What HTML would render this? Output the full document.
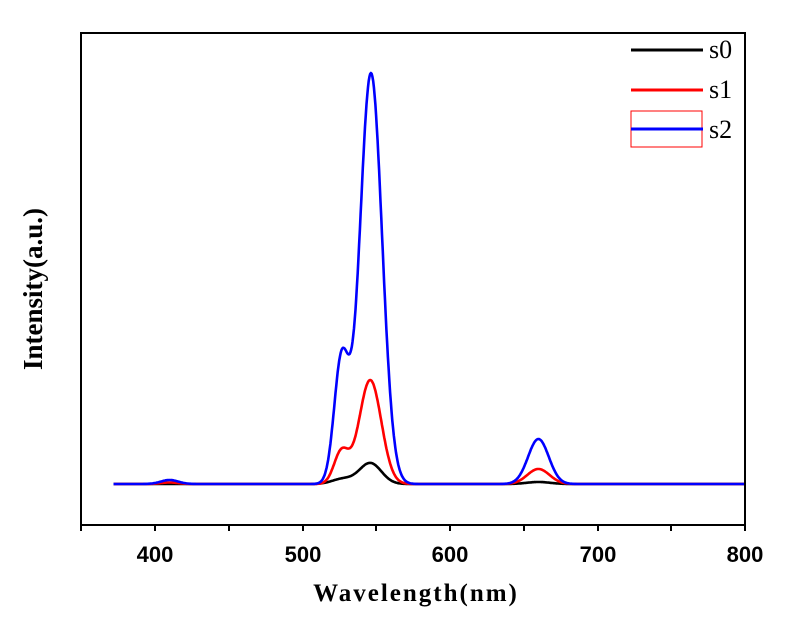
<!DOCTYPE html>
<html><head><meta charset="utf-8"><style>
body{margin:0;background:#fff}
svg{display:block}
</style></head><body>
<svg id="s" width="790" height="624" xmlns="http://www.w3.org/2000/svg">
<rect x="0" y="0" width="790" height="624" fill="#fff"/>
<g id="curves" fill="none" stroke-width="2.6" stroke-linejoin="round"></g>
<rect x="81" y="33" width="664" height="492" fill="none" stroke="#000" stroke-width="2"/>
<g stroke="#000" stroke-width="2">
<line x1="81" y1="525" x2="81" y2="531"/><line x1="155" y1="525" x2="155" y2="531"/>
<line x1="229" y1="525" x2="229" y2="531"/><line x1="303" y1="525" x2="303" y2="531"/>
<line x1="376" y1="525" x2="376" y2="531"/><line x1="450" y1="525" x2="450" y2="531"/>
<line x1="524" y1="525" x2="524" y2="531"/><line x1="598" y1="525" x2="598" y2="531"/>
<line x1="671" y1="525" x2="671" y2="531"/><line x1="745" y1="525" x2="745" y2="531"/>
</g>
<g font-family="Liberation Sans, sans-serif" font-weight="bold" font-size="22" text-anchor="middle">
<text x="155" y="562">400</text><text x="303" y="562">500</text><text x="450" y="562">600</text>
<text x="598" y="562">700</text><text x="745" y="562">800</text>
</g>
<text x="416" y="601" font-family="Liberation Serif, serif" font-weight="bold" font-size="25" letter-spacing="2" text-anchor="middle">Wavelength(nm)</text>
<text transform="translate(42,289) rotate(-90)" font-family="Liberation Serif, serif" font-weight="bold" font-size="27" text-anchor="middle">Intensity(a.u.)</text>
<g stroke-width="3">
<line x1="631" y1="50" x2="703" y2="50" stroke="#000"/>
<line x1="631" y1="90" x2="703" y2="90" stroke="#f00"/>
<rect x="631" y="111" width="71" height="36" fill="none" stroke="#f00" stroke-width="1"/>
<line x1="631" y1="129" x2="703" y2="129" stroke="#00f"/>
</g>
<g font-family="Liberation Serif, serif" font-size="26">
<text x="709" y="58">s0</text><text x="709" y="98">s1</text><text x="709" y="138">s2</text>
</g>
</svg>
<script>
function g(x,c,s){return Math.exp(-(x-c)*(x-c)/(2*s*s));}
var series=[
 ["#000",[[21,546,7.5],[5,527,7],[2,660,8]],372,800],
 ["#f00",[[104,546,7.5],[32,526.5,5],[15,660,7.5],[1.5,410,6]],372,800],
 ["#00f",[[411,546.5,7.5],[122,526.5,5],[45,660,7],[4,410,6]],372,800]
];
var gc=document.getElementById('curves');
series.forEach(function(sr){
 var d='';
 for(var x=sr[2];x<=sr[3];x+=0.5){
  var y=0;sr[1].forEach(function(p){y+=p[0]*g(x,p[1],p[2]);});
  var px=81+(x-350)*664/450, py=484-y;
  d+=(d?'L':'M')+px.toFixed(1)+' '+py.toFixed(1);
 }
 var p=document.createElementNS('http://www.w3.org/2000/svg','path');
 p.setAttribute('d',d);p.setAttribute('stroke',sr[0]);gc.appendChild(p);
});
</script>
</body></html>
